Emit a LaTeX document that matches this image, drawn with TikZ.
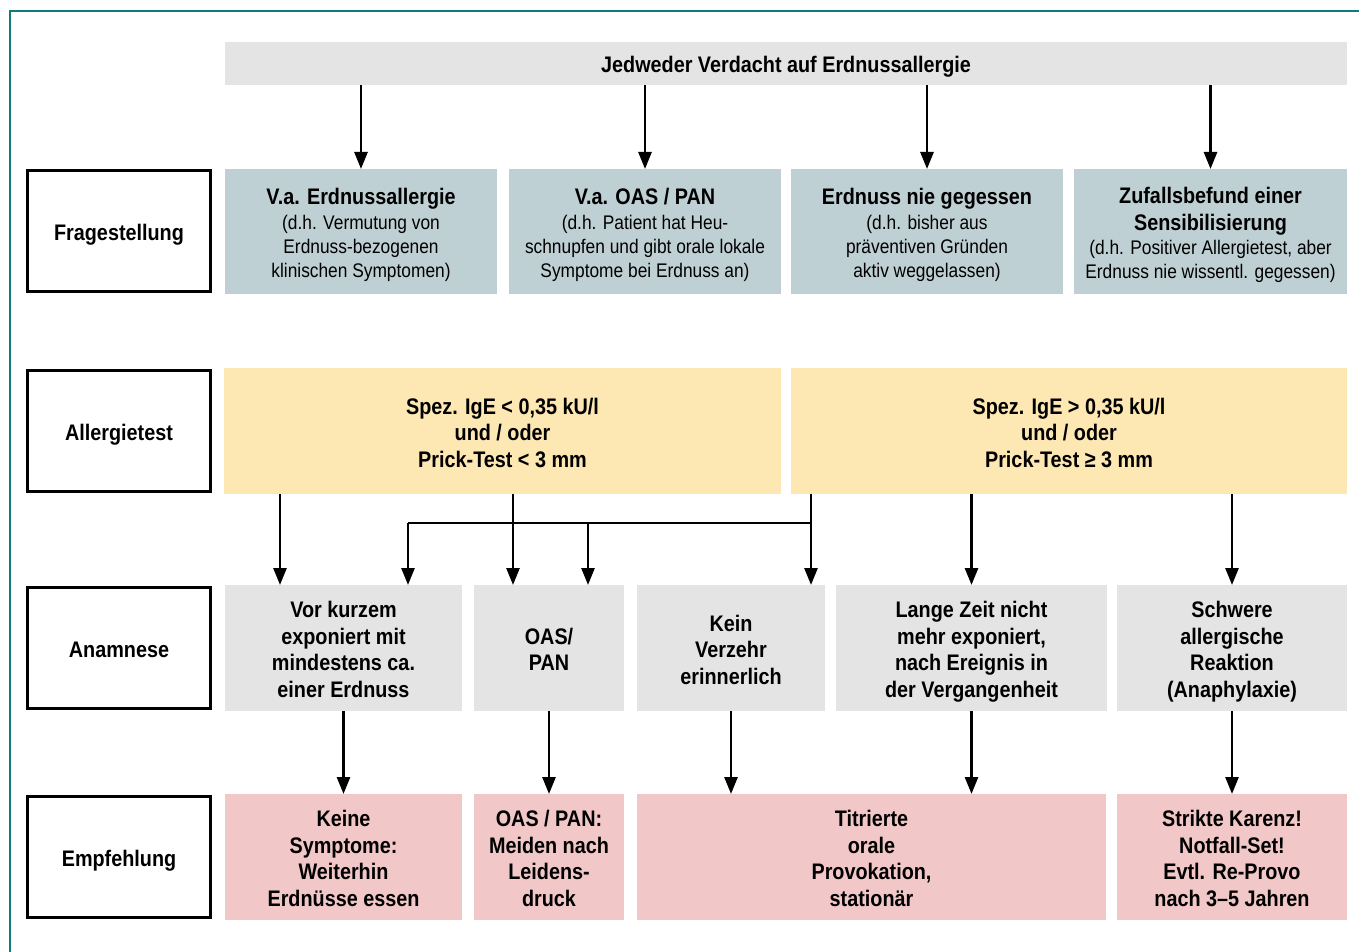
\documentclass[tikz,border=0pt]{standalone}
\usepackage{fontspec}
\setmainfont{Liberation Sans}[FakeStretch=0.88]
\usetikzlibrary{arrows.meta}
\definecolor{frameteal}{HTML}{107A7C}
\definecolor{topgray}{HTML}{E3E4E3}
\definecolor{qblue}{HTML}{BFD0D4}
\definecolor{tyellow}{HTML}{FDE7B3}
\definecolor{agray}{HTML}{E3E4E3}
\definecolor{epink}{HTML}{F2C7C8}
\newcommand{\myboldfont}{\fontsize{22.5}{26.5}\selectfont\bfseries}
\newcommand{\mysubfont}{\fontsize{19.7}{24}\selectfont\mdseries}
\newcommand{\mybeg}{\rule{0pt}{24pt}}
\newcommand{\myend}{\rule[-5pt]{0pt}{0pt}}
\tikzset{
  box/.style={inner sep=0pt, outer sep=0pt, align=center, anchor=north west, font=\myboldfont},
  lbl/.style={box, draw=black, line width=3pt, fill=white},
  arr/.style={line width=2.7pt, -{Triangle[length=17pt,width=13pt]}},
  ln/.style={line width=2.7pt}
}
\begin{document}
\begin{tikzpicture}[x=1pt,y=-1pt]
\useasboundingbox (0,0) rectangle (1359,952);
\fill[white] (0,0) rectangle (1359,952);
\draw[frameteal, line width=2.5pt] (10,952) -- (10,11) -- (1359,11);

% top
\node[box, fill=topgray, minimum width=1122pt, minimum height=43pt] (top) at (225,42) {\mybeg Jedweder Verdacht auf Erdnussallergie\myend};

% labels
\node[lbl, minimum width=183pt, minimum height=121pt] (L1) at (27.5,170.5) {\mybeg Fragestellung\myend};
\node[lbl, minimum width=183pt, minimum height=121pt] (L2) at (27.5,370.5) {\mybeg Allergietest\myend};
\node[lbl, minimum width=183pt, minimum height=121pt] (L3) at (27.5,587.5) {\mybeg Anamnese\myend};
\node[lbl, minimum width=183pt, minimum height=121pt] (L4) at (27.5,796.5) {\mybeg Empfehlung\myend};

% row 1
\node[box, fill=qblue, minimum width=272pt, minimum height=125pt] (q1) at (225,169)
  {\mybeg V.a. Erdnussallergie\\[-2pt]\mysubfont (d.h. Vermutung von\\[-2.5pt] \mysubfont Erdnuss-bezogenen\\[-2.5pt] \mysubfont klinischen Symptomen)\myend};
\node[box, fill=qblue, minimum width=272pt, minimum height=125pt] (q2) at (509,169)
  {\mybeg V.a. OAS / PAN\\[-2pt]\mysubfont (d.h. Patient hat Heu-\\[-2.5pt] \mysubfont schnupfen und gibt orale lokale\\[-2.5pt] \mysubfont Symptome bei Erdnuss an)\myend};
\node[box, fill=qblue, minimum width=272pt, minimum height=125pt] (q3) at (791,169)
  {\mybeg Erdnuss nie gegessen\\[-2pt]\mysubfont (d.h. bisher aus\\[-2.5pt] \mysubfont präventiven Gründen\\[-2.5pt] \mysubfont aktiv weggelassen)\myend};
\node[box, fill=qblue, minimum width=273pt, minimum height=125pt] (q4) at (1074,169)
  {\mybeg Zufallsbefund einer\\ Sensibilisierung\\[-2pt]\mysubfont (d.h. Positiver Allergietest, aber\\[-2.5pt] \mysubfont Erdnuss nie wissentl. gegessen)\myend};

% row 2
\node[box, fill=tyellow, minimum width=557pt, minimum height=126pt] (y1) at (224,368)
  {\mybeg Spez. IgE < 0,35 kU/l\\ und / oder\\ Prick-Test < 3 mm\myend};
\node[box, fill=tyellow, minimum width=556pt, minimum height=126pt] (y2) at (791,368)
  {\mybeg Spez. IgE > 0,35 kU/l\\ und / oder\\ Prick-Test ≥ 3 mm\myend};

% row 3
\node[box, fill=agray, minimum width=237pt, minimum height=126pt] (a1) at (225,585)
  {\mybeg Vor kurzem\\ exponiert mit\\ mindestens ca.\\ einer Erdnuss\myend};
\node[box, fill=agray, minimum width=150pt, minimum height=126pt] (a2) at (474,585)
  {\mybeg OAS/\\ PAN\myend};
\node[box, fill=agray, minimum width=188pt, minimum height=126pt] (a3) at (637,585)
  {\mybeg Kein\\ Verzehr\\ erinnerlich\myend};
\node[box, fill=agray, minimum width=271pt, minimum height=126pt] (a4) at (836,585)
  {\mybeg Lange Zeit nicht\\ mehr exponiert,\\ nach Ereignis in\\ der Vergangenheit\myend};
\node[box, fill=agray, minimum width=230pt, minimum height=126pt] (a5) at (1117,585)
  {\mybeg Schwere\\ allergische\\ Reaktion\\ (Anaphylaxie)\myend};

% row 4
\node[box, fill=epink, minimum width=237pt, minimum height=126pt] (e1) at (225,794)
  {\mybeg Keine\\ Symptome:\\ Weiterhin\\ Erdnüsse essen\myend};
\node[box, fill=epink, minimum width=150pt, minimum height=126pt] (e2) at (474,794)
  {\mybeg OAS / PAN:\\ Meiden nach\\ Leidens-\\ druck\myend};
\node[box, fill=epink, minimum width=469pt, minimum height=126pt] (e3) at (637,794)
  {\mybeg Titrierte\\ orale\\ Provokation,\\ stationär\myend};
\node[box, fill=epink, minimum width=230pt, minimum height=126pt] (e4) at (1117,794)
  {\mybeg Strikte Karenz!\\ Notfall-Set!\\ Evtl. Re-Provo\\ nach 3–5 Jahren\myend};

% arrows top -> row1
\foreach \n in {q1,q2,q3,q4} \draw[arr] (\n |- top.south) -- (\n.north);

% arrows row2 -> row3
\coordinate (c280) at (280,0);
\coordinate (c408) at (408,0);
\coordinate (c513) at (513,0);
\coordinate (c588) at (588,0);
\coordinate (c811) at (811,0);
\coordinate (h) at (0,523);
\draw[arr] (c280 |- y1.south) -- (c280 |- a1.north);
\draw[arr] (c513 |- y1.south) -- (c513 |- a2.north);
\draw[arr] (c811 |- y2.south) -- (c811 |- a3.north);
\draw[ln] (c408 |- h) -- (c811 |- h);
\draw[arr] (c408 |- h) -- (c408 |- a1.north);
\draw[arr] (c588 |- h) -- (c588 |- a2.north);
\draw[arr] (a4 |- y2.south) -- (a4.north);
\draw[arr] (a5 |- y2.south) -- (a5.north);

% arrows row3 -> row4
\draw[arr] (a1.south) -- (a1 |- e1.north);
\draw[arr] (a2.south) -- (a2 |- e2.north);
\draw[arr] (a3.south) -- (a3 |- e3.north);
\draw[arr] (a4.south) -- (a4 |- e3.north);
\draw[arr] (a5.south) -- (a5 |- e4.north);
\end{tikzpicture}
\end{document}
